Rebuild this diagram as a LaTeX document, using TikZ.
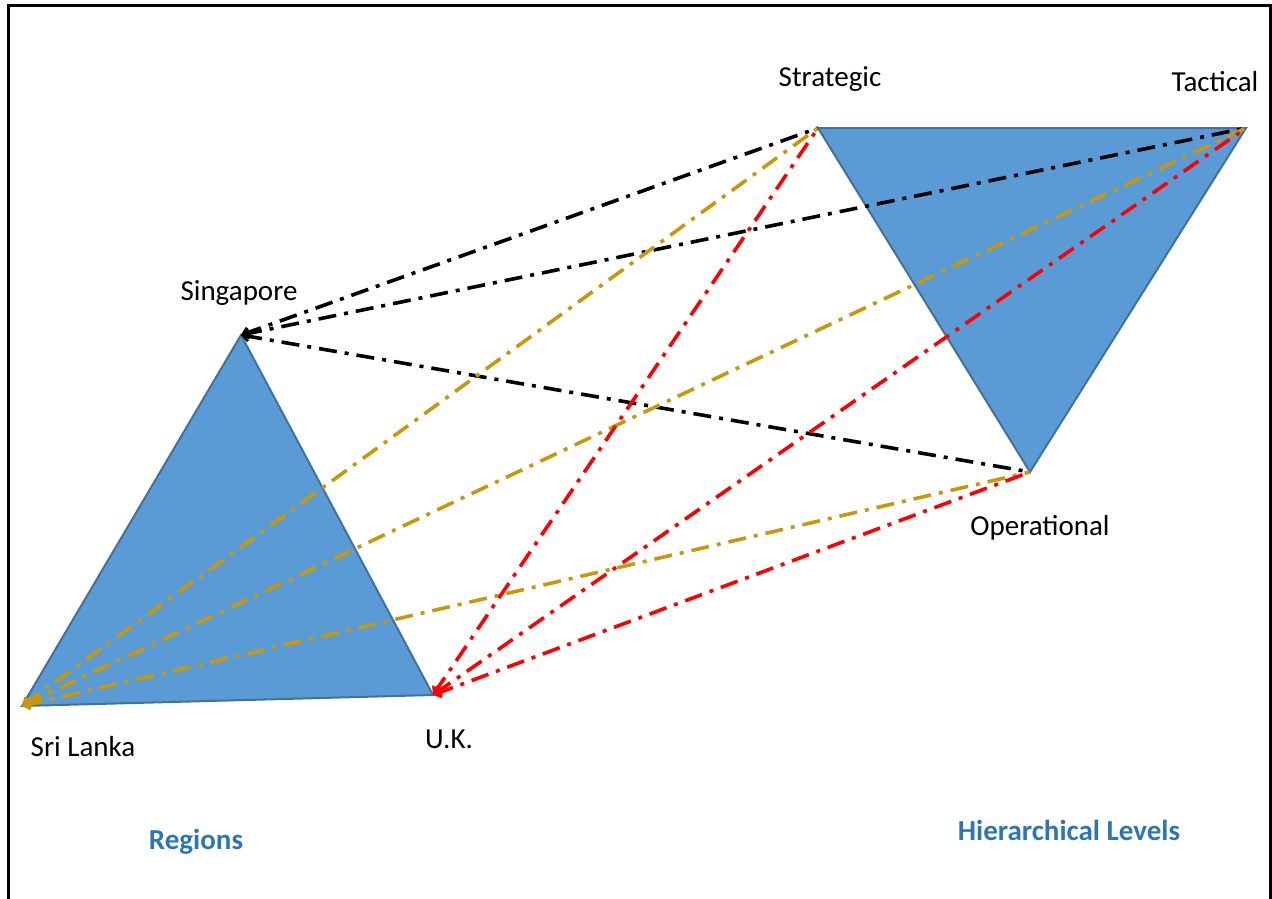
\documentclass[tikz,border=0pt]{standalone}
\usepackage{fontspec}
\setmainfont{Carlito}
\usetikzlibrary{arrows.meta}
\definecolor{trifill}{HTML}{5B9BD5}
\definecolor{triedge}{HTML}{41719C}
\definecolor{goldline}{HTML}{C8980A}
\definecolor{redline}{HTML}{FF0000}
\definecolor{labelblue}{HTML}{2E75B6}
\tikzset{
  tri/.style={fill=trifill, draw=triedge, line width=2pt, line join=miter},
  link/.style={line width=3.6pt, dash pattern=on 18pt off 8pt on 4pt off 8pt,
    {Straight Barb[length=6pt,width=10pt,line width=2.5pt]}-},
  lbl/.style={font=\fontsize{29}{34}\selectfont, anchor=base, inner sep=0pt},
  title/.style={font=\fontsize{29}{34}\selectfont\bfseries, text=labelblue, anchor=base, inner sep=0pt},
}
\begin{document}
\begin{tikzpicture}[x=1pt,y=-1pt]
\useasboundingbox (0,0) rectangle (1272,899);
\draw[line width=3pt] (8,899) -- (8,6) -- (1270,6) -- (1270,899);
% vertices
\coordinate (sg) at (241,335);
\coordinate (sl) at (22,706);
\coordinate (uk) at (433,695);
\coordinate (st) at (818,128);
\coordinate (ta) at (1246,128);
\coordinate (op) at (1030,472);
% triangles
\draw[tri] (sg) -- (uk) -- (sl) -- cycle;
\draw[tri] (st) -- (ta) -- (op) -- cycle;
% links
\draw[link, black] (sg) -- (st);
\draw[link, black] (sg) -- (ta);
\draw[link, black] (sg) -- (op);
\draw[link, goldline] (sl) -- (st);
\draw[link, goldline] (sl) -- (ta);
\draw[link, goldline] (sl) -- (op);
\draw[link, redline] (uk) -- (st);
\draw[link, redline] (uk) -- (ta);
\draw[link, redline] (uk) -- (op);
% labels
\node[lbl] (lst) at (830,86) {Strategic};
\node[lbl] (lta) at (1215,92) {Tactical};
\node[lbl] (lsg) at (239,300) {Singapore};
\node[lbl] (lop) at (1040,535) {Operational};
\node[lbl] (lsl) at (83,756) {Sri Lanka};
\node[lbl] (luk) at (449,748) {U.K.};
\node[title] (treg) at (196,849) {Regions};
\node[title] (thl) at (1069,840) {Hierarchical Levels};
\end{tikzpicture}
\end{document}
